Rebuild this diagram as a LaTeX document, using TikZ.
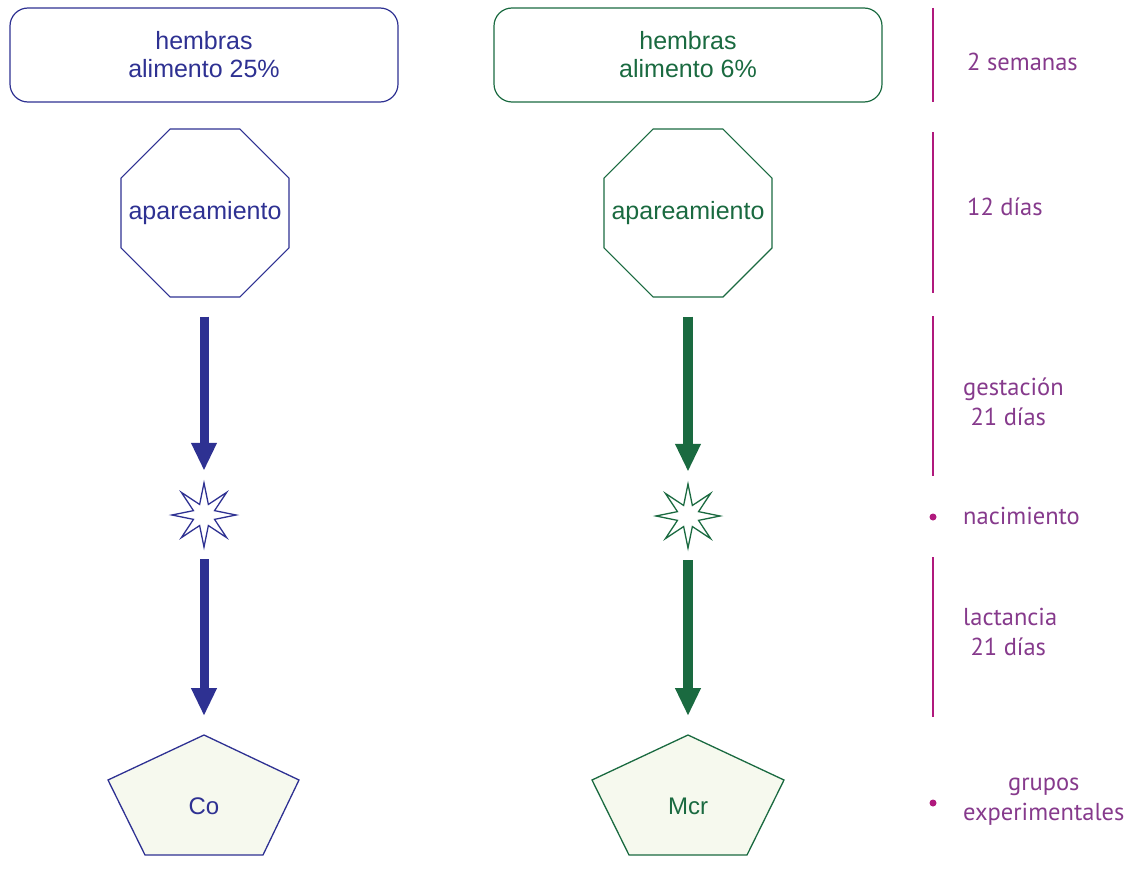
\documentclass[tikz,border=0pt]{standalone}
\usepackage{fontspec}
\setmainfont{Liberation Sans}
\newfontfamily\lblfont{PT Sans}
\usetikzlibrary{shapes.geometric,arrows.meta}
\definecolor{cblue}{HTML}{2E3192}
\definecolor{cgreen}{HTML}{1A6A40}
\definecolor{cmag}{HTML}{B0197D}
\definecolor{cpurp}{HTML}{863A8C}
\definecolor{cfill}{HTML}{F6F9EE}
\tikzset{
  topbox/.style={draw, rounded corners=18pt, line width=1.2pt, minimum width=388pt, minimum height=94pt, align=center, font=\fontsize{25}{28}\selectfont},
  octo/.style={draw, regular polygon, regular polygon sides=8, minimum size=182pt, inner sep=0pt, line width=1.2pt},
  otext/.style={font=\fontsize{25}{28}\selectfont, inner sep=0pt},
  starshape/.style={draw, star, star points=8, star point ratio=2.8, minimum size=64pt, inner sep=0pt, line width=1.3pt},
  bigarrow/.style={line width=9pt, -{Triangle[width=24pt,length=28pt]}},
  pent/.style={line width=1.3pt, fill=cfill},
  ptext/.style={font=\fontsize{24}{28}\selectfont},
  timeline/.style={draw=cmag, line width=2pt},
  lbl/.style={text=cpurp, anchor=west, align=left, inner sep=0pt, font=\lblfont\fontsize{24.5}{30}\selectfont},
  dotm/.style={fill=cmag, circle, inner sep=0pt, minimum size=7pt}
}
\begin{document}
\begin{tikzpicture}[x=1pt,y=-1pt]
\useasboundingbox (0,0) rectangle (1130,875);
% left column
\node[topbox, draw=cblue, text=cblue] (hL) at (204,55) {hembras\\ alimento 25\%};
\node[octo, draw=cblue] (oL) at (205,213) {};
\node[otext, text=cblue] (oLt) at (oL.center) {apareamiento};
\node[starshape, draw=cblue] (sL) at (204,515) {};
\draw[bigarrow, cblue, shorten <=19pt, shorten >=9pt] (sL.north |- oL.south) -- (sL.north);
\coordinate (pLt) at (204,735);
\draw[pent, draw=cblue] (pLt) -- (108,780) -- (145,855) -- (263,855) -- (299,780) -- cycle;
\node[ptext, text=cblue] (pL) at (204,806) {Co};
\draw[bigarrow, cblue, shorten <=9pt, shorten >=19pt] (sL.south) -- (pLt);
% right column
\node[topbox, draw=cgreen, text=cgreen] (hR) at (688,55) {hembras\\ alimento 6\%};
\node[octo, draw=cgreen] (oR) at (688,213) {};
\node[otext, text=cgreen] (oRt) at (oR.center) {apareamiento};
\node[starshape, draw=cgreen] (sR) at (688,516) {};
\draw[bigarrow, cgreen, line width=10pt, shorten <=19pt, shorten >=9pt] (sR.north |- oR.south) -- (sR.north);
\coordinate (pRt) at (688,735);
\draw[pent, draw=cgreen] (pRt) -- (592,780) -- (629,855) -- (747,855) -- (784,780) -- cycle;
\node[ptext, text=cgreen] (pR) at (688,806) {Mcr};
\draw[bigarrow, cgreen, line width=10pt, shorten <=9pt, shorten >=19pt] (sR.south) -- (pRt);
% timeline
\coordinate (t1a) at (933,8);   \coordinate (t1b) at (933,102);
\coordinate (t2a) at (933,132); \coordinate (t2b) at (933,293);
\coordinate (t3a) at (933,316); \coordinate (t3b) at (933,476);
\coordinate (t4a) at (933,557); \coordinate (t4b) at (933,717);
\draw[timeline] (t1a) -- (t1b);
\draw[timeline] (t2a) -- (t2b);
\draw[timeline] (t3a) -- (t3b);
\draw[timeline] (t4a) -- (t4b);
\node[dotm] (d1) at (933,517) {};
\node[dotm] (d2) at (933,803) {};
\node[lbl] (l1) at (967,62) {2 semanas};
\node[lbl] (l2) at (967,207) {12 días};
\node[lbl] (l3) at (963,402) {gestación\\\hspace{0.3em}21 días};
\node[lbl] (l4) at (963,516) {nacimiento};
\node[lbl] (l5) at (963,632) {lactancia\\\hspace{0.3em}21 días};
\node[lbl, align=center] (l6) at (963,802) {grupos\\experimentales};
\end{tikzpicture}
\end{document}
